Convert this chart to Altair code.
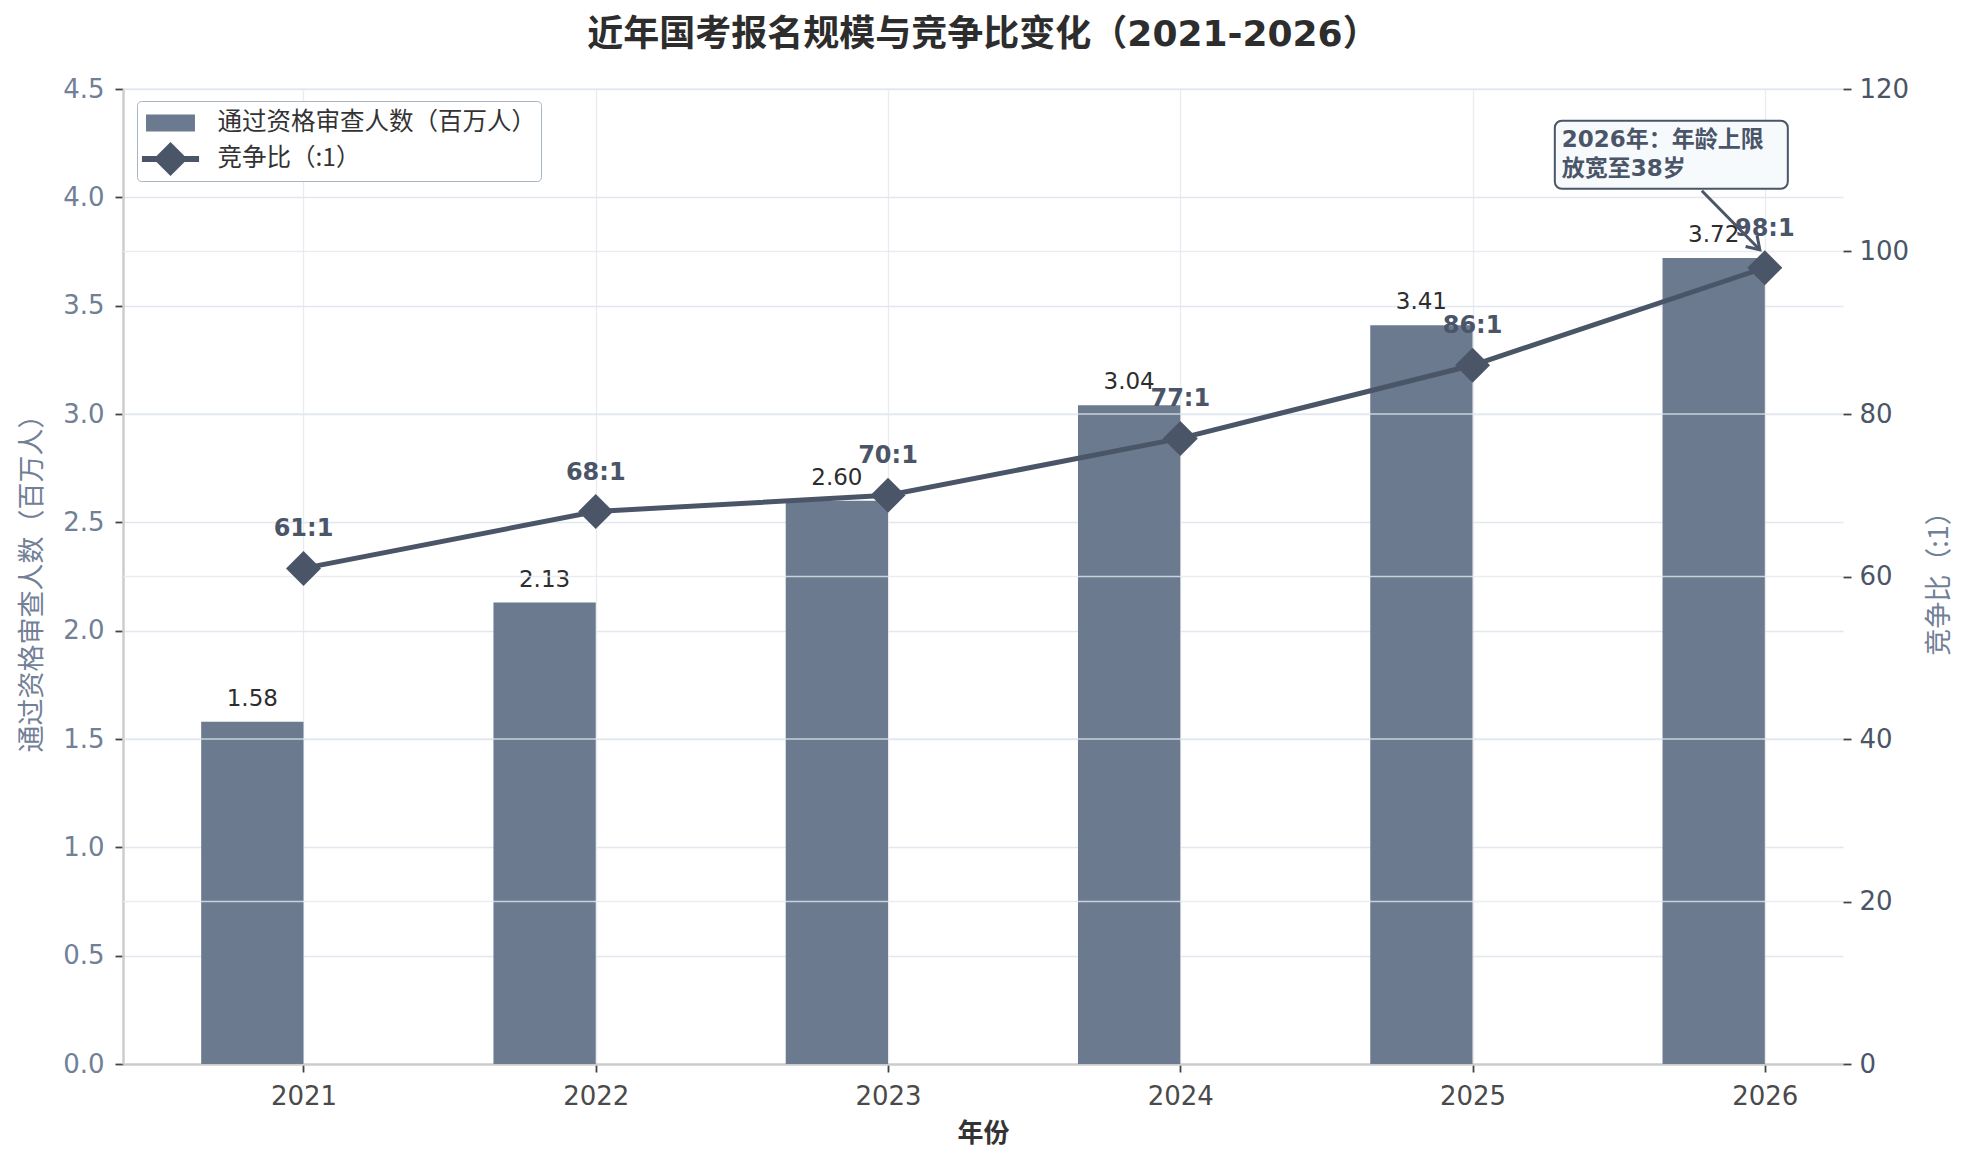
import altair as alt
import pandas as pd

# ---------------- data ----------------
years = ["2021", "2022", "2023", "2024", "2025", "2026"]
qualified = [1.58, 2.13, 2.60, 3.04, 3.41, 3.72]          # 通过资格审查人数（百万人）
ratios = [61, 68, 70, 77, 86, 98]                          # 竞争比（:1）
left_ticks = [0.0, 0.5, 1.0, 1.5, 2.0, 2.5, 3.0, 3.5, 4.0, 4.5]
right_ticks = [0, 20, 40, 60, 80, 100, 120]
bar_name = "通过资格审查人数（百万人）"
line_name = "竞争比（:1）"
series_names = [bar_name, line_name]
note_lines = ["2026年：年龄上限", "放宽至38岁"]
note_index = 5

# ---------------- style ----------------
BAR_C = "#6b7a8f"
LINE_C = "#4a5568"
GRID_C = "#e2e8f0"
SANS = "DejaVu Sans, Noto Sans CJK SC, sans-serif"
CJK = "Noto Sans CJK SC, DejaVu Sans, sans-serif"
BAR_W = 0.35
W, H = 1720, 975

n = len(years)
idx = list(range(n))
df = pd.DataFrame({
    "i": idx,
    "year": years,
    "qualified": qualified,
    "ratio": ratios,
})
df["bar_start"] = df["i"] - BAR_W
df["bar_mid"] = df["i"] - BAR_W / 2
df["bar_label"] = [f"{v:.2f}" for v in qualified]
df["ratio_label"] = [f"{r}:1" for r in ratios]

xmin, xmax = -BAR_W, n - 1
margin = 0.05 * (xmax - xmin)
x_scale = alt.Scale(domain=[xmin - margin, xmax + margin], nice=False, zero=False)
yl_scale = alt.Scale(domain=[left_ticks[0], left_ticks[-1]], nice=False)
yr_scale = alt.Scale(domain=[right_ticks[0], right_ticks[-1]], nice=False)

year_array = "[" + ",".join(f"'{y}'" for y in years) + "]"

x_axis = alt.Axis(
    values=idx, labelExpr=f"{year_array}[datum.value]",
    title="年份", titleFont=CJK, titleFontSize=26, titleFontWeight="bold", titleColor="#333333",
    titleY=69, titleBaseline="middle",
    labelFont=SANS, labelFontSize=26, labelColor="#4a4a4a", labelPadding=11,
    tickColor="#444444", tickSize=8, tickWidth=1.8,
    domainColor="#cccccc", domainWidth=2.5,
    grid=True, gridColor="#ebebef", gridWidth=1.3,
)

yl_axis = alt.Axis(
    values=left_ticks, format=".1f", orient="left",
    title=bar_name, titleFont=CJK, titleFontSize=27, titleFontWeight="normal", titleColor="#718096",
    titleX=-91, titleY=H / 2, titleAngle=270, titleAlign="center", titleBaseline="middle",
    labelFont=SANS, labelFontSize=26, labelColor="#718096", labelPadding=11,
    tickColor="#444444", tickSize=8, tickWidth=1.8,
    domainColor="#cccccc", domainWidth=2.5,
    grid=True, gridColor=GRID_C, gridWidth=1.5,
)

yr_axis = alt.Axis(
    values=right_ticks, format="d", orient="right",
    title=line_name, titleFont=CJK, titleFontSize=27, titleFontWeight="normal", titleColor="#718096",
    titleX=96, titleY=H / 2, titleAngle=270, titleAlign="center", titleBaseline="middle",
    labelFont=SANS, labelFontSize=26, labelColor=LINE_C, labelPadding=8,
    tickColor="#444444", tickSize=8, tickWidth=1.8,
    domain=False, grid=False,
)


def X(field):
    return alt.X(field, scale=x_scale, axis=x_axis)


def YL(field):
    return alt.Y(field, scale=yl_scale, axis=yl_axis)


def YR(field):
    return alt.Y(field, scale=yr_scale, axis=yr_axis)


# ---------------- left-axis layers ----------------
base = alt.Chart(df)

bars = base.mark_rect(color=BAR_C).encode(
    x=X("bar_start:Q"),
    x2="i:Q",
    y=YL("qualified:Q"),
    y2=alt.datum(0),
)

bar_labels = base.mark_text(
    dy=-16, baseline="alphabetic", align="center", font=SANS, fontSize=23, color="#2d2d2d"
).encode(
    x=X("bar_mid:Q"),
    y=YL("qualified:Q"),
    text="bar_label:N",
)

swatch_path = "M-1.44,-0.5L1.44,-0.5L1.44,0.5L-1.44,0.5Z"
line_sym_path = "M-1.68,-0.18L1.68,-0.18L1.68,0.18L-1.68,0.18Z M0,-1L1,0L0,1L-1,0Z"

legend_def = alt.Legend(
    title=None, orient="none", legendX=14, legendY=12, direction="vertical",
    fillColor="#ffffff", strokeColor="#a9b5c4", cornerRadius=4, padding=5,
    rowPadding=7, symbolSize=1156, symbolOffset=11.5, labelOffset=30,
    symbolOpacity=1, symbolStrokeWidth=0,
    labelFont=CJK, labelFontSize=24.5, labelColor="#333333", labelLimit=800,
)

legend_layer = alt.Chart(pd.DataFrame({"series": series_names})).mark_point(
    filled=True, size=1
).encode(
    color=alt.Color("series:N", scale=alt.Scale(domain=series_names, range=[BAR_C, LINE_C]), legend=legend_def),
    shape=alt.Shape("series:N", scale=alt.Scale(domain=series_names, range=[swatch_path, line_sym_path]), legend=legend_def),
    opacity=alt.value(0),
)

left = alt.layer(bars, bar_labels, legend_layer)

# ---------------- right-axis layers ----------------
grid_r = alt.Chart(pd.DataFrame({"v": right_ticks})).transform_filter("datum.v > 0").mark_rule(
    color=GRID_C, strokeWidth=1.5, opacity=0.8
).encode(y=YR("v:Q"))

line = base.mark_line(color=LINE_C, strokeWidth=5).encode(
    x=X("i:Q"),
    y=YR("ratio:Q"),
)

points = base.mark_point(shape="diamond", filled=True, size=1225, color=LINE_C, opacity=1).encode(
    x=X("i:Q"),
    y=YR("ratio:Q"),
)

ratio_labels = base.mark_text(
    dy=-32, baseline="alphabetic", align="center", font=SANS, fontSize=24, fontWeight="bold", color=LINE_C
).encode(
    x=X("i:Q"),
    y=YR("ratio:Q"),
    text="ratio_label:N",
)

note_df = pd.DataFrame({
    "i": [note_index],
    "ratio": [ratios[note_index]],
    "note": ["\n".join(note_lines)],
})
note_base = alt.Chart(note_df)

note_box = note_base.mark_rect(
    fill="#f7fafc", stroke=LINE_C, strokeWidth=2, cornerRadius=7,
    xOffset=-210, x2Offset=23, yOffset=-147, y2Offset=-79,
).encode(
    x=X("i:Q"), x2="i:Q",
    y=YR("ratio:Q"), y2="ratio:Q",
)

note_text = note_base.mark_text(
    align="left", baseline="alphabetic", lineBreak="\n", lineHeight=29,
    dx=-203, dy=-121, font=SANS, fontSize=23, fontWeight="bold", color=LINE_C,
).encode(
    x=X("i:Q"),
    y=YR("ratio:Q"),
    text="note:N",
)

arrow_line = note_base.mark_rule(
    color=LINE_C, strokeWidth=3,
    xOffset=-63, x2Offset=-5, yOffset=-77, y2Offset=-18,
).encode(
    x=X("i:Q"), x2="i:Q",
    y=YR("ratio:Q"), y2="ratio:Q",
)

arrow_head = note_base.mark_point(
    shape="M-1,-0.65L0,0L-1,0.65", filled=False, stroke=LINE_C, strokeWidth=3,
    size=600, angle=46, opacity=1, xOffset=-5, yOffset=-18,
).encode(
    x=X("i:Q"),
    y=YR("ratio:Q"),
)

right = alt.layer(grid_r, line, points, ratio_labels, note_box, note_text, arrow_line, arrow_head)

chart = alt.layer(left, right).resolve_scale(y="independent").properties(
    width=W, height=H,
    title=alt.TitleParams(
        text="近年国考报名规模与竞争比变化（2021-2026）",
        font=SANS, fontSize=36, fontWeight="bold", color="#2d2d2d",
        anchor="middle", offset=22,
    ),
    autosize=alt.AutoSizeParams(type="none"),
    padding={"left": 115, "top": 81, "right": 120, "bottom": 92},
    background="#ffffff",
).configure_view(fill="#fdfdfd", strokeWidth=0)

chart.save("out.html", embed_options={"renderer": "svg", "actions": False})
